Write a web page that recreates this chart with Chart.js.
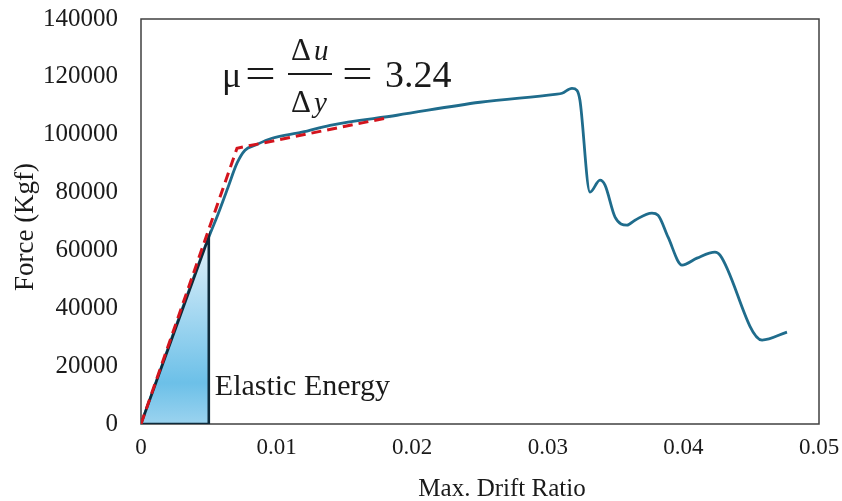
<!DOCTYPE html>
<html>
<head>
<meta charset="utf-8">
<script src="https://cdn.jsdelivr.net/npm/chart.js@4/dist/chart.umd.min.js"></script>
<style>
  html, body { margin: 0; padding: 0; background: #ffffff; }
  #wrap { width: 842px; height: 501px; position: relative; }
</style>
</head>
<body>
<div id="wrap"><canvas id="c"></canvas></div>
<script>
// ---- Data ----
const driftRatio = [0, 0.005, 0.00568, 0.00642, 0.00708, 0.00767, 0.00841, 0.00966, 0.01187, 0.01394, 0.01888, 0.025, 0.03053, 0.03105, 0.03178, 0.03215, 0.03237, 0.03311, 0.03385, 0.03422, 0.03496, 0.03584, 0.03643, 0.03768, 0.03813, 0.03887, 0.0399, 0.041, 0.04233, 0.0427, 0.0458, 0.04764];
const force      = [0, 64600, 72500, 81860, 90150, 94640, 96370, 98780, 100860, 103270, 106730, 111220, 113980, 114330, 116050, 115360, 111910, 80130, 84280, 82550, 71500, 68730, 70460, 72880, 72190, 64590, 54920, 57340, 59410, 58370, 29010, 31780];

const bilinearDrift = [0, 0.00708, 0.01836];
const bilinearForce = [0, 95330, 106040];

const elasticDrift = [0, 0.005, 0.005, 0];
const elasticForce = [0, 64600, 0, 0];

const xTickValues = [0, 0.01, 0.02, 0.03, 0.04, 0.05];
const yTickValues = [0, 20000, 40000, 60000, 80000, 100000, 120000, 140000];

const xTitle = 'Max. Drift Ratio';
const yTitle = 'Force (Kgf)';
const areaLabel = 'Elastic Energy';
const ductilityValue = '3.24';

const toPoints = (xs, ys) => xs.map((x, i) => ({ x: x, y: ys[i] }));

const SERIF = '"Liberation Serif", "Times New Roman", serif';

const decorations = {
  id: 'decorations',
  beforeDatasetsDraw(chart) {
    const ctx = chart.ctx;
    const a = chart.chartArea;
    ctx.save();
    ctx.strokeStyle = '#404040';
    ctx.lineWidth = 1.5;
    ctx.strokeRect(a.left, a.top, a.right - a.left, a.bottom - a.top);
    ctx.restore();
  },
  afterDatasetsDraw(chart) {
    const ctx = chart.ctx;
    const xs = chart.scales.x, ys = chart.scales.y;
    ctx.save();
    ctx.fillStyle = '#1a1a1a';
    ctx.textAlign = 'left';
    ctx.textBaseline = 'alphabetic';
    // Elastic energy label, just right of the triangle
    ctx.font = '30px ' + SERIF;
    ctx.fillText(areaLabel, xs.getPixelForValue(elasticDrift[1]) + 6, ys.getPixelForValue(10000));

    // ductility formula
    const by = 87;
    ctx.font = '36px ' + SERIF;
    ctx.fillText('\u03BC', 222, by);
    ctx.font = '42px ' + SERIF;
    ctx.save();
    ctx.translate(245, by);
    ctx.scale(1.3, 1);
    ctx.fillText('=', 0, 0);
    ctx.restore();
    // fraction
    ctx.font = '31px ' + SERIF;
    const dW = ctx.measureText('\u0394').width;
    ctx.fillText('\u0394', 291, by - 27);
    ctx.fillText('\u0394', 291, by + 25);
    ctx.font = 'italic 29px ' + SERIF;
    ctx.fillText('u', 291 + dW + 3, by - 27);
    ctx.fillText('y', 291 + dW + 3, by + 25);
    ctx.strokeStyle = '#1a1a1a';
    ctx.lineWidth = 2;
    ctx.beginPath();
    ctx.moveTo(288, by - 13);
    ctx.lineTo(332, by - 13);
    ctx.stroke();
    ctx.font = '42px ' + SERIF;
    ctx.save();
    ctx.translate(342, by);
    ctx.scale(1.3, 1);
    ctx.fillText('=', 0, 0);
    ctx.restore();
    ctx.font = '38px ' + SERIF;
    ctx.fillText(ductilityValue, 385, by);

    // axis titles
    ctx.font = '25px ' + SERIF;
    ctx.textAlign = 'center';
    ctx.fillText(xTitle, 502, 496);
    ctx.translate(33, 227);
    ctx.rotate(-Math.PI / 2);
    ctx.font = '27px ' + SERIF;
    ctx.fillText(yTitle, 0, 0);
    ctx.restore();
  }
};

new Chart(document.getElementById('c'), {
  type: 'line',
  data: {
    datasets: [
      {
        label: 'Bilinear idealisation',
        data: toPoints(bilinearDrift, bilinearForce),
        borderColor: '#d3141d',
        borderWidth: 3,
        borderDash: [10, 6],
        pointRadius: 0,
        tension: 0,
        fill: false
      },
      {
        label: areaLabel,
        data: toPoints(elasticDrift, elasticForce),
        borderColor: '#0e2a3a',
        borderWidth: 2.6,
        pointRadius: 0,
        tension: 0,
        fill: 'shape',
        backgroundColor: (c) => {
          const chart = c.chart;
          if (!chart.chartArea) return 'rgba(108,192,232,0.8)';
          const y = chart.scales.y;
          const top = y.getPixelForValue(elasticForce[1]);
          const bot = y.getPixelForValue(0);
          const g = chart.ctx.createLinearGradient(0, top, 0, bot);
          g.addColorStop(0, '#e4f2fb');
          g.addColorStop(0.78, '#6cc0e8');
          g.addColorStop(1, '#9bd3ef');
          return g;
        }
      },
      {
        label: 'Force',
        data: toPoints(driftRatio, force),
        borderColor: '#1f6c8c',
        borderWidth: 2.8,
        pointRadius: 0,
        cubicInterpolationMode: 'monotone',
        fill: false
      }
    ]
  },
  options: {
    responsive: true,
    maintainAspectRatio: false,
    animation: false,
    layout: { padding: { top: 19, right: 23, left: 0, bottom: 0 } },
    plugins: { legend: { display: false }, tooltip: { enabled: false } },
    scales: {
      x: {
        type: 'linear',
        min: 0, max: 0.05,
        grid: { display: false, drawTicks: false },
        border: { display: false },
        afterBuildTicks: (s) => { s.ticks = xTickValues.map(v => ({ value: v })); },
        afterFit: (s) => { s.height = 77; s.paddingLeft = 0; s.paddingRight = 0; },
        ticks: {
          padding: 10,
          color: '#1a1a1a',
          font: { family: SERIF, size: 23 },
          callback: (v) => String(Number(v.toFixed(4)))
        }
      },
      y: {
        type: 'linear',
        min: 0, max: 140000,
        grid: { display: false, drawTicks: false },
        border: { display: false },
        afterBuildTicks: (s) => { s.ticks = yTickValues.map(v => ({ value: v })); },
        afterFit: (s) => { s.width = 141; s.paddingTop = 0; s.paddingBottom = 0; },
        ticks: {
          padding: 23,
          color: '#1a1a1a',
          font: { family: SERIF, size: 25 },
          callback: (v) => String(v)
        }
      }
    }
  },
  plugins: [decorations]
});
</script>
</body>
</html>
